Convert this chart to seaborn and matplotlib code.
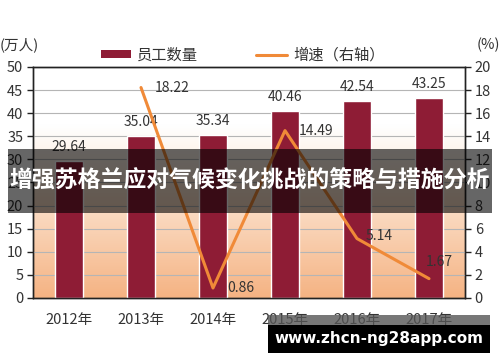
import numpy as np
import pandas as pd
import matplotlib
matplotlib.use("Agg")
import matplotlib.pyplot as plt
import seaborn as sns
from matplotlib.patches import Rectangle, Patch
from matplotlib.lines import Line2D
from matplotlib.colors import LinearSegmentedColormap

# ---- data ----
years = ["2012年", "2013年", "2014年", "2015年", "2016年", "2017年"]
staff = [29.64, 35.04, 35.34, 40.46, 42.54, 43.25]
growth_years = ["2013年", "2014年", "2015年", "2016年", "2017年"]
growth = [18.22, 0.86, 14.49, 5.14, 1.67]
left_ticks = [0, 5, 10, 15, 20, 25, 30, 35, 40, 45, 50]
right_ticks = [0, 2, 4, 6, 8, 10, 12, 14, 16, 18, 20]
title_text = "增强苏格兰应对气候变化挑战的策略与措施分析"
watermark = "www.zhcn-ng28app.com"

# ---- style ----
sns.set_theme(style="white")
plt.rcParams['font.family'] = ['Noto Sans CJK SC', 'DejaVu Sans']
bar_color = "#8e1c35"
line_color = "#f08a38"
text_color = "#333333"

fig = plt.figure(figsize=(5.0, 3.62), dpi=100)
ax = fig.add_axes([0.066, 0.177, 0.864, 0.638])
ax.set_facecolor("white")

# gradient background
grad = np.linspace(0, 1, 256).reshape(-1, 1)
cmap = LinearSegmentedColormap.from_list("g", [(0, "#f5b383"), (0.55, "#fdeddf"), (0.75, "#ffffff"), (1, "#ffffff")])
ax.imshow(grad, extent=[0, 1, 0, 1], transform=ax.transAxes, origin="lower",
          cmap=cmap, aspect="auto", zorder=0)

df = pd.DataFrame({"year": years, "staff": staff})
sns.barplot(data=df, x="year", y="staff", color=bar_color, width=0.39,
            saturation=1, ax=ax, zorder=3)
ax.set_xlim(-0.5, 5.5)
ax.set_ylim(0, 50)
ax.set_yticks(left_ticks)
ax.set_xlabel("")
ax.set_ylabel("")
ax.yaxis.grid(True, color="#b5b5b5", linewidth=0.8, zorder=1)
ax.set_axisbelow(False)
for gl in ax.get_ygridlines():
    gl.set_zorder(1)

for i, v in enumerate(staff):
    ax.annotate(f"{v:.2f}", (i, v), xytext=(0, 5), textcoords="offset points",
                ha="center", va="bottom", fontsize=10, color=text_color, zorder=5)

# x ticks at boundaries
ax.set_xticks(range(len(years)))
ax.set_xticklabels(years, fontsize=10.5, color=text_color)
ax.set_xticks(np.arange(-0.5, len(years), 1), minor=True)
ax.tick_params(axis="x", which="major", length=0, pad=11)
ax.tick_params(axis="x", which="minor", length=4, width=1, color="#222222", direction="out")
ax.tick_params(axis="y", length=4, width=1, color="#222222", direction="out",
               labelsize=10.5, labelcolor=text_color, pad=3)
ax.tick_params(axis="both", bottom=True, left=True)

for s in ax.spines.values():
    s.set_color("#222222")
    s.set_linewidth(1.0)

# line on right axis
ax2 = ax.twinx()
gx = [years.index(y) for y in growth_years]
gdf = pd.DataFrame({"x": gx, "growth": growth})
sns.lineplot(data=gdf, x="x", y="growth", color=line_color, linewidth=2.2, ax=ax2, zorder=4)
ax2.set_ylim(0, 20)
ax2.set_yticks(right_ticks)
ax2.set_ylabel("")
ax2.set_xlim(-0.5, 5.5)
ax2.tick_params(axis="y", right=True, length=4, width=1, color="#222222", direction="out",
                labelsize=10.5, labelcolor=text_color, pad=3)
for s in ax2.spines.values():
    s.set_color("#222222")
    s.set_linewidth(1.0)

offsets = [(10, 0), (10, 0), (10, 0), (6, 2), (-2, 12)]
for x, v, off in zip(gx, growth, offsets):
    ax2.annotate(f"{v:.2f}", (x, v), xytext=off, textcoords="offset points",
                 ha="left", va="center", fontsize=10, color=text_color, zorder=6)

# axis unit labels
fig.text(0.0, 0.875, "(万人)", fontsize=10.5, color=text_color, ha="left", va="center")
fig.text(1.0, 0.875, "(%)", fontsize=10.5, color=text_color, ha="right", va="center")

# legend
handles = [Patch(facecolor=bar_color, edgecolor="none"),
           Line2D([0], [0], color=line_color, linewidth=2.2)]
fig.legend(handles, ["员工数量", "增速（右轴）"], loc="center", bbox_to_anchor=(0.485, 0.848),
           ncol=2, frameon=False, fontsize=11, handlelength=2.0, handleheight=0.45,
           columnspacing=3.8, handletextpad=0.4, labelcolor=text_color)

# overlay banner
fig.patches.append(Rectangle((8 / 500, 1 - 213 / 362), 484 / 500, 64 / 362,
                             transform=fig.transFigure, facecolor="black", alpha=0.6,
                             edgecolor="none", zorder=10))
fig.text(0.5, 1 - 181 / 362, title_text, fontsize=16.5, fontweight="bold", color="white",
         ha="center", va="center", zorder=11)

# watermark
fig.patches.append(Rectangle((268 / 500, 1 - 353 / 362), 222 / 500, 38 / 362,
                             transform=fig.transFigure, facecolor="#555555", alpha=0.8,
                             edgecolor="none", zorder=10))
fig.patches.append(Rectangle((268 / 500, 1 - 353 / 362), 222 / 500, 28 / 362,
                             transform=fig.transFigure, facecolor="black",
                             edgecolor="none", zorder=11))
fig.text(379 / 500, 1 - 339 / 362, watermark, fontsize=11, fontweight="bold", color="white",
         family=["DejaVu Sans"], ha="center", va="center", zorder=12)

fig.savefig("out.png", dpi=100)
